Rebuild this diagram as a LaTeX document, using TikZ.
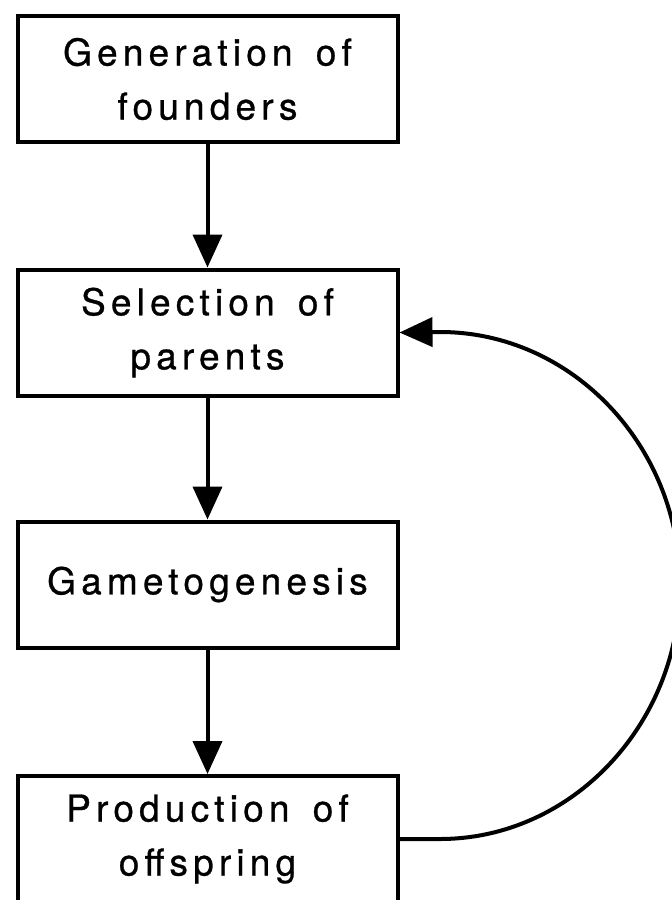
\documentclass[tikz,border=0pt]{standalone}
\usepackage{fontspec}
\newfontfamily\heros{TeX Gyre Heros}[LetterSpace=14,WordSpace=1.5,FakeBold=0.8]
\usetikzlibrary{arrows.meta}
\tikzset{
  stage/.style={
    draw,line width=2pt,minimum width=190pt,minimum height=63pt,
    inner sep=0pt,align=center,font=\heros\fontsize{18.5}{27}\selectfont
  },
  flow/.style={
    line width=2pt,-{Triangle[length=16.5pt,width=14.5pt]}
  }
}

\begin{document}
\begin{tikzpicture}[x=0.5pt,y=-0.5pt]
\clip (0,0) rectangle (672,900);
\node[stage] (founders) at (207.5,79) {Generation of\\founders};
\node[stage] (parents) at (207.5,332.5) {Selection of\\parents};
\node[stage] (gameto) at (207.5,584.5) {Gametogenesis};
\node[stage] (offspring) at (207.5,839) {Production of\\offspring};
\draw[flow] (founders) -- (parents);
\draw[flow] (parents) -- (gameto);
\draw[flow] (gameto) -- (offspring);
\draw[flow] (offspring.east) -- (440,839) .. controls (572,839) and (680,724) .. (680,585)
  .. controls (680,446) and (572,332) .. (440,332) -- (parents.east);
\end{tikzpicture}
\end{document}
